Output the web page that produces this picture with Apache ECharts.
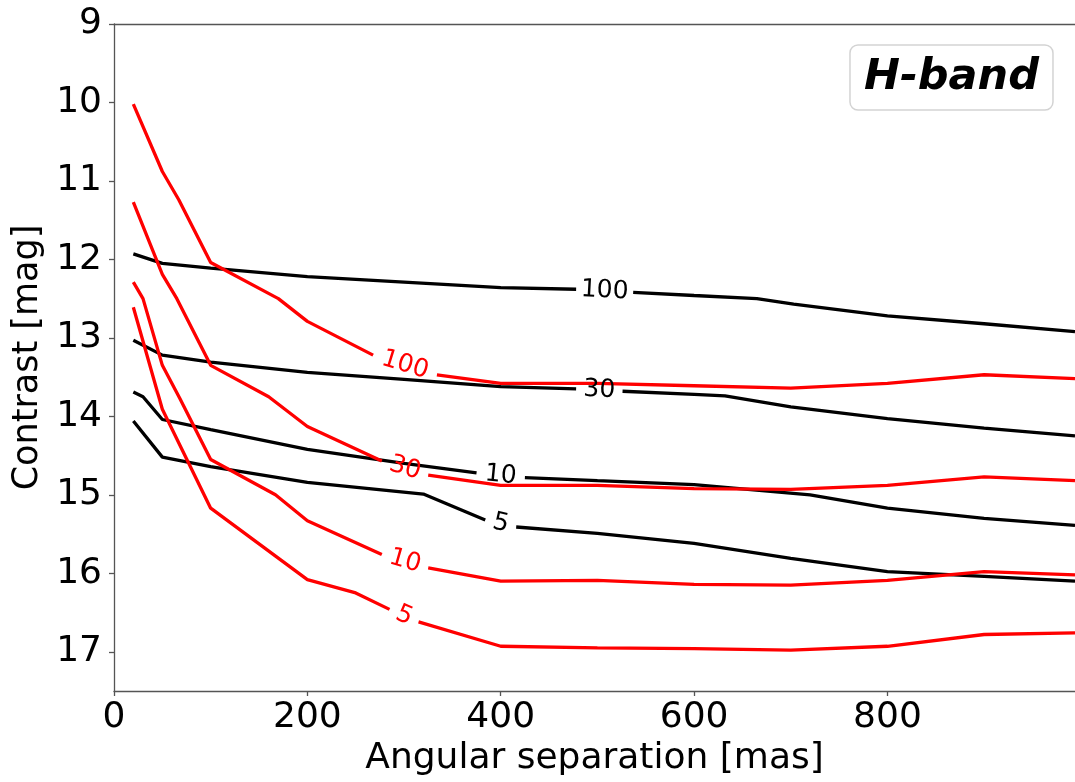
<!DOCTYPE html>
<html><head><meta charset="utf-8">
<script src="https://cdn.jsdelivr.net/npm/echarts@6/dist/echarts.min.js"></script>
<style>html,body{margin:0;padding:0;background:#fff}#c{width:1075px;height:782px}</style>
</head><body><div id="c"></div>
<script>
// ---- data ----
const xTicks = [0, 200, 400, 600, 800];
const yTicks = [9, 10, 11, 12, 13, 14, 15, 16, 17];
const GAP = ['-', '-'];   // break in a contour where its inline label sits

const black100 = [[20,11.93],[50,12.05],[100,12.11],[200,12.22],[300,12.29],[400,12.36],[478,12.38],GAP,[537,12.42],[600,12.46],[665,12.50],[703,12.57],[800,12.72],[900,12.82],[994,12.92]];
const black30  = [[20,13.03],[50,13.22],[100,13.31],[200,13.44],[300,13.53],[400,13.62],[478,13.65],GAP,[526,13.68],[600,13.72],[632,13.74],[700,13.88],[800,14.03],[900,14.15],[994,14.25]];
const black10  = [[20,13.69],[30,13.75],[50,14.04],[100,14.17],[200,14.42],[300,14.60],[375,14.72],GAP,[425,14.78],[500,14.82],[600,14.87],[720,15.00],[800,15.17],[900,15.30],[994,15.39]];
const black5   = [[20,14.06],[50,14.52],[100,14.64],[200,14.84],[320,14.99],[384,15.32],GAP,[416,15.41],[500,15.49],[600,15.62],[700,15.81],[800,15.98],[900,16.04],[994,16.10]];

const red100 = [[20,10.02],[50,10.88],[67,11.24],[100,12.04],[170,12.50],[200,12.79],[268,13.22],GAP,[334,13.47],[400,13.58],[500,13.58],[600,13.61],[700,13.64],[800,13.58],[900,13.47],[994,13.52]];
const red30  = [[20,11.27],[50,12.19],[65,12.50],[100,13.35],[160,13.75],[200,14.13],[277,14.57],GAP,[325,14.75],[400,14.88],[500,14.88],[600,14.92],[700,14.93],[800,14.88],[900,14.77],[994,14.82]];
const red10  = [[20,12.29],[30,12.50],[50,13.35],[68,13.77],[100,14.55],[167,15.00],[200,15.33],[277,15.76],GAP,[325,15.93],[400,16.10],[500,16.09],[600,16.14],[700,16.15],[800,16.09],[900,15.98],[994,16.02]];
const red5   = [[20,12.61],[50,13.91],[100,15.17],[200,16.08],[250,16.25],[285,16.46],GAP,[315,16.62],[400,16.93],[500,16.95],[600,16.96],[700,16.98],[800,16.93],[900,16.78],[994,16.76]];

const blackCurves = [black100, black30, black10, black5];
const redCurves   = [red100, red30, red10, red5];
const levels      = ['100', '30', '10', '5'];
const bandLabel   = 'H-band';
const xName = 'Angular separation [mas]';
const yName = 'Contrast [mag]';

// ---- chart ----
const FONT = 'DejaVu Sans';
const chart = echarts.init(document.getElementById('c'), null, {renderer: 'canvas'});

function gapEnds(curve) {
  const i = curve.indexOf(GAP);
  return [curve[i - 1], curve[i + 1]];
}
function mid(curve) {
  const [a, b] = gapEnds(curve);
  return [(a[0] + b[0]) / 2, (a[1] + b[1]) / 2];
}

const curves = [];
blackCurves.forEach((c, k) => curves.push({data: c, color: '#000000', text: levels[k]}));
redCurves.forEach((c, k) => curves.push({data: c, color: '#ff0000', text: levels[k]}));

function buildSeries(angles) {
  const s = [];
  curves.forEach((c) => {
    s.push({
      type: 'line', data: c.data, showSymbol: false, symbol: 'none',
      connectNulls: false, silent: true,
      lineStyle: {color: c.color, width: 3.3}, z: c.color === '#000000' ? 2 : 3
    });
  });
  curves.forEach((c, k) => {
    s.push({
      type: 'scatter', data: [mid(c.data)], symbol: 'circle', symbolSize: 2, silent: true,
      itemStyle: {color: 'rgba(255,255,255,0)'}, z: 5,
      label: {
        show: true, position: 'inside', formatter: c.text,
        rotate: angles ? angles[k] : 0,
        color: c.color, fontFamily: FONT, fontSize: 25, fontStyle: 'normal', fontWeight: 'normal', opacity: 1
      }
    });
  });
  return s;
}

const axisCol = '#555555';
const option = {
  animation: false,
  backgroundColor: '#ffffff',
  title: {
    text: bandLabel, right: 22, top: 45,
    padding: [11, 14], borderColor: '#d3d3d3', borderWidth: 1.5, borderRadius: 8,
    backgroundColor: '#ffffff',
    textStyle: {fontFamily: FONT, fontSize: 43, fontWeight: 'bold', fontStyle: 'italic', color: '#000'}
  },
  grid: {left: 114, right: 0, top: 24, bottom: 88.6, containLabel: false},
  xAxis: [{
    type: 'value', min: 0, max: 994,
    name: xName, nameLocation: 'middle', nameGap: 50,
    nameTextStyle: {fontFamily: FONT, fontSize: 36, color: '#000'},
    axisLine: {show: true, lineStyle: {color: axisCol, width: 1.3}},
    axisTick: {show: true, length: 5, inside: false, customValues: xTicks, lineStyle: {color: axisCol, width: 1.3}},
    axisLabel: {customValues: xTicks, fontFamily: FONT, fontSize: 36, color: '#000', margin: 9},
    splitLine: {show: false}
  }, {
    type: 'value', min: 0, max: 994, position: 'top',
    axisLine: {show: true, onZero: false, lineStyle: {color: axisCol, width: 1.3}},
    axisTick: {show: false}, axisLabel: {show: false}, splitLine: {show: false}
  }],
  yAxis: [{
    type: 'value', inverse: true, min: 9, max: 17.5,
    name: yName, nameLocation: 'middle', nameGap: 58,
    nameTextStyle: {fontFamily: FONT, fontSize: 35, color: '#000'},
    axisLine: {show: true, onZero: false, lineStyle: {color: axisCol, width: 1.3}},
    axisTick: {show: true, length: 5, inside: false, customValues: yTicks, lineStyle: {color: axisCol, width: 1.3}},
    axisLabel: {customValues: yTicks, fontFamily: FONT, fontSize: 36, color: '#000', margin: 12},
    splitLine: {show: false}
  }],
  series: buildSeries(null)
};
chart.setOption(option);

// label rotation follows each contour's direction across its gap (in pixels)
const angles = curves.map(c => {
  const [a, b] = gapEnds(c.data);
  const pa = chart.convertToPixel({xAxisIndex: 0, yAxisIndex: 0}, a);
  const pb = chart.convertToPixel({xAxisIndex: 0, yAxisIndex: 0}, b);
  return -Math.atan2(pb[1] - pa[1], pb[0] - pa[0]) * 180 / Math.PI;
});
chart.setOption({series: buildSeries(angles)});
</script>
</body></html>
